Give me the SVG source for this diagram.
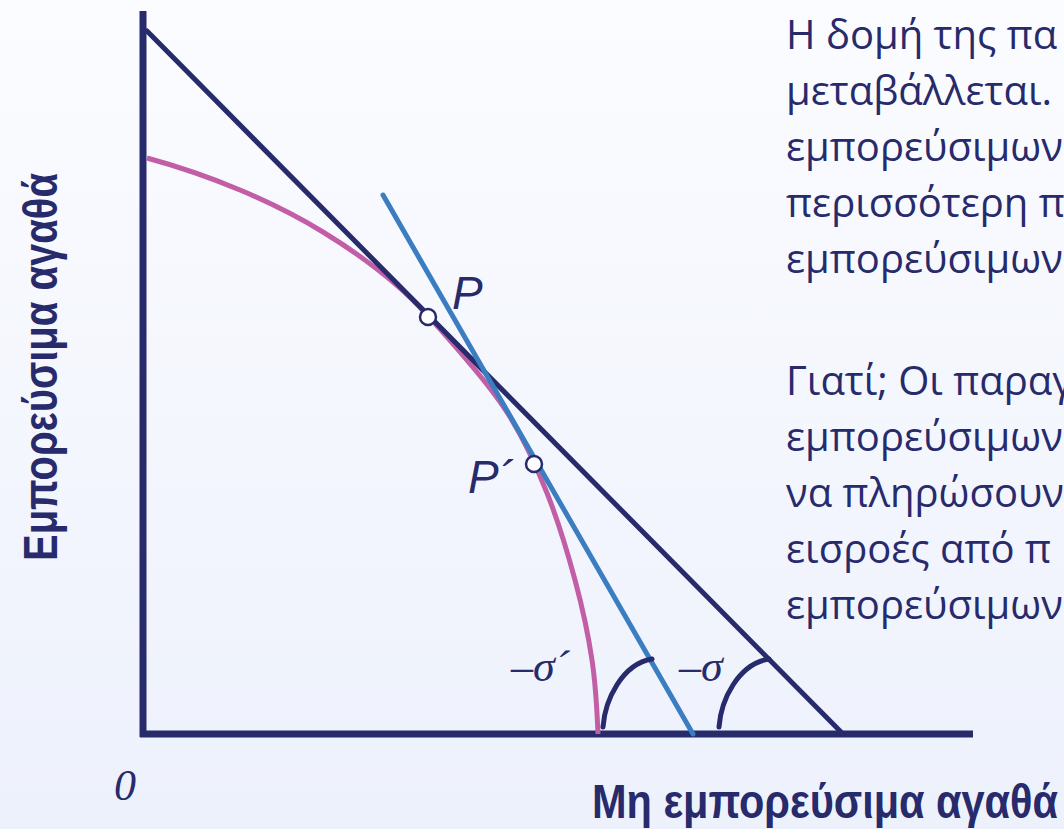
<svg xmlns="http://www.w3.org/2000/svg" width="1064" height="829" viewBox="0 0 1064 829">
  <defs>
    <linearGradient id="bg" x1="0" y1="0" x2="0" y2="1">
      <stop offset="0" stop-color="#fbfcff"/>
      <stop offset="1" stop-color="#edf1fc"/>
    </linearGradient>
    <style>
      .axis { stroke: #272a6b; stroke-width: 7; fill: none; }
      .navy { stroke: #272a6b; stroke-width: 5; fill: none; stroke-linecap: round; }
      .blue { stroke: #3b7dc1; stroke-width: 5; fill: none; stroke-linecap: round; }
      .pink { stroke: #c25ea6; stroke-width: 5; fill: none; }
      .pt { fill: #ffffff; stroke: #272a6b; stroke-width: 2.5; }
      .body { font-family: "Open Sans", "Noto Sans", sans-serif; font-size: 40px; font-weight: 500; fill: #272a6b; }
      .axl { font-family: "Liberation Sans", Arial, sans-serif; font-weight: bold; font-size: 48px; fill: #272a6b; }
      .lab { font-family: "Liberation Sans", Arial, sans-serif; font-style: italic; font-size: 46px; fill: #272a6b; }
      .ser { font-family: "Liberation Serif", "Times New Roman", serif; font-style: italic; font-size: 44px; fill: #272a6b; }
    </style>
  </defs>
  <rect x="0" y="0" width="1064" height="829" fill="url(#bg)"/>

  <g id="axes">
    <line class="axis" x1="143" y1="11" x2="143" y2="737"/>
    <line class="axis" x1="140" y1="734" x2="973" y2="734"/>
  </g>

  <g id="connectors">
    <path id="ppf" class="pink" d="M147,158 C178,166.4 210.7,177.7 240,190 C269.3,202.3 296.3,215.7 323,232 C349.7,248.3 377.2,268 400,288 C422.8,308 441.7,330.5 460,352 C478.3,373.5 495.5,393.5 510,417 C524.5,440.5 536.2,465.8 547,493 C557.8,520.2 567.5,552.2 575,580 C582.5,607.8 588.2,634.3 592,660 C595.8,685.7 597,709 598,734"/>
    <line id="budget" class="navy" x1="147" y1="31" x2="843" y2="734"/>
    <line id="tangent" class="blue" x1="383" y1="195" x2="693" y2="734"/>
    <path id="arc1" class="navy" d="M603,727 C605,700 622,664 652,659"/>
    <path id="arc2" class="navy" d="M719,727 C721,700 738,664 769,659"/>
  </g>

  <g id="point-P">
    <circle class="pt" cx="428" cy="317" r="8"/>
    <text class="lab" x="452" y="309">P</text>
  </g>
  <g id="point-P2">
    <circle class="pt" cx="534" cy="464" r="8"/>
    <text class="lab" x="468" y="493">P´</text>
  </g>

  <g id="angle-labels">
    <text class="ser" x="511" y="681">–σ´</text>
    <text class="ser" x="679" y="681">–σ</text>
  </g>

  <g id="axis-labels">
    <text class="ser" x="114" y="800">0</text>
    <text class="axl" x="592" y="818" textLength="466" lengthAdjust="spacingAndGlyphs">Μη εμπορεύσιμα αγαθά</text>
    <text class="axl" transform="translate(57,561) rotate(-90)" x="0" y="0" textLength="388" lengthAdjust="spacingAndGlyphs">Εμπορεύσιμα αγαθά</text>
  </g>

  <g id="text-1">
    <text class="body" x="786" y="49">Η δομή της πα</text>
    <text class="body" x="786" y="105">μεταβάλλεται.</text>
    <text class="body" x="786" y="161">εμπορεύσιμων</text>
    <text class="body" x="786" y="217">περισσότερη π</text>
    <text class="body" x="786" y="273">εμπορεύσιμων</text>
  </g>
  <g id="text-2">
    <text class="body" x="786" y="395">Γιατί; Οι παραγ</text>
    <text class="body" x="786" y="451">εμπορεύσιμων</text>
    <text class="body" x="786" y="507">να πληρώσουν</text>
    <text class="body" x="786" y="563">εισροές από π</text>
    <text class="body" x="786" y="619">εμπορεύσιμων</text>
  </g>
</svg>
